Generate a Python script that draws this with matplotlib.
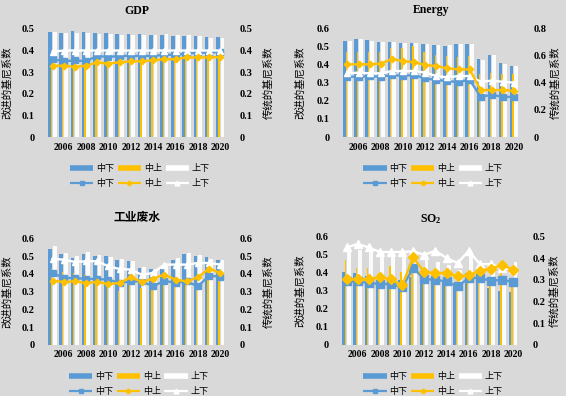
import matplotlib
matplotlib.use("Agg")
import matplotlib.pyplot as plt
from matplotlib.lines import Line2D
import numpy as np

plt.rcParams['font.family'] = ['Liberation Serif', 'Noto Sans CJK SC']
plt.rcParams['mathtext.default'] = 'regular'

years = np.arange(2005, 2021)
xtick_years = np.arange(2006, 2021, 2)
series_names = ['中下', '中上', '上下']

# GDP
gdp_bar_zx = [0.485, 0.48, 0.49, 0.485, 0.48, 0.48, 0.475, 0.475, 0.475, 0.47, 0.47, 0.468, 0.465, 0.465, 0.463, 0.462]
gdp_bar_zs = [0.34, 0.34, 0.335, 0.34, 0.35, 0.35, 0.355, 0.36, 0.36, 0.365, 0.37, 0.37, 0.375, 0.375, 0.375, 0.378]
gdp_bar_sx = [0.485, 0.48, 0.48, 0.48, 0.478, 0.475, 0.472, 0.47, 0.47, 0.47, 0.475, 0.47, 0.47, 0.468, 0.46, 0.46]
gdp_line_zx = [0.36, 0.35, 0.355, 0.35, 0.375, 0.37, 0.375, 0.375, 0.375, 0.375, 0.38, 0.38, 0.385, 0.39, 0.39, 0.395]
gdp_line_zs = [0.33, 0.33, 0.325, 0.33, 0.345, 0.34, 0.345, 0.35, 0.35, 0.355, 0.36, 0.36, 0.368, 0.368, 0.368, 0.37]
gdp_line_sx = [0.395, 0.4, 0.4, 0.4, 0.4, 0.4, 0.4, 0.4, 0.4, 0.4, 0.4, 0.4, 0.4, 0.4, 0.4, 0.4]

# Energy
en_bar_zx = [0.53, 0.541, 0.532, 0.522, 0.522, 0.519, 0.519, 0.51, 0.506, 0.502, 0.515, 0.515, 0.428, 0.452, 0.408, 0.391]
en_bar_zs = [0.47, 0.47, 0.47, 0.47, 0.49, 0.49, 0.5, 0.47, 0.45, 0.447, 0.44, 0.447, 0.347, 0.354, 0.347, 0.347]
en_bar_sx = [0.53, 0.54, 0.53, 0.525, 0.525, 0.52, 0.52, 0.51, 0.505, 0.505, 0.515, 0.515, 0.425, 0.45, 0.405, 0.39]
en_line_zx = [0.443, 0.443, 0.446, 0.443, 0.455, 0.45, 0.455, 0.43, 0.42, 0.41, 0.405, 0.42, 0.295, 0.31, 0.295, 0.295]
en_line_zs = [0.534, 0.534, 0.534, 0.54, 0.571, 0.559, 0.549, 0.529, 0.522, 0.505, 0.497, 0.497, 0.345, 0.345, 0.345, 0.34]
en_line_sx = [0.468, 0.473, 0.468, 0.468, 0.485, 0.485, 0.485, 0.473, 0.448, 0.438, 0.448, 0.448, 0.406, 0.414, 0.406, 0.399]

# 工业废水
ws_bar_zx = [0.543, 0.513, 0.49, 0.513, 0.5, 0.5, 0.481, 0.472, 0.434, 0.428, 0.434, 0.481, 0.513, 0.5, 0.494, 0.481]
ws_bar_zs = [0.428, 0.411, 0.406, 0.392, 0.358, 0.349, 0.302, 0.377, 0.32, 0.336, 0.358, 0.336, 0.336, 0.345, 0.424, 0.358]
ws_bar_sx = [0.557, 0.519, 0.5, 0.524, 0.506, 0.494, 0.485, 0.475, 0.438, 0.428, 0.443, 0.49, 0.519, 0.506, 0.485, 0.481]
ws_line_zx = [0.406, 0.377, 0.377, 0.372, 0.372, 0.368, 0.349, 0.358, 0.358, 0.33, 0.362, 0.349, 0.358, 0.33, 0.39, 0.385]
ws_line_zs = [0.362, 0.355, 0.358, 0.349, 0.355, 0.343, 0.349, 0.381, 0.355, 0.374, 0.396, 0.368, 0.358, 0.381, 0.43, 0.406]
ws_line_sx = [0.485, 0.481, 0.468, 0.472, 0.472, 0.443, 0.428, 0.425, 0.395, 0.406, 0.453, 0.453, 0.453, 0.462, 0.462, 0.453]

# SO2
so_bar_zx = [0.402, 0.395, 0.38, 0.355, 0.345, 0.356, 0.377, 0.358, 0.355, 0.36, 0.33, 0.395, 0.349, 0.313, 0.299, 0.291]
so_bar_zs = [0.471, 0.425, 0.425, 0.397, 0.434, 0.402, 0.484, 0.378, 0.36, 0.36, 0.332, 0.369, 0.378, 0.369, 0.397, 0.351]
so_bar_sx = [0.515, 0.526, 0.515, 0.498, 0.498, 0.489, 0.489, 0.489, 0.46, 0.443, 0.415, 0.5, 0.397, 0.405, 0.378, 0.46]
so_line_zx = [0.292, 0.292, 0.285, 0.28, 0.28, 0.265, 0.354, 0.303, 0.3, 0.292, 0.269, 0.308, 0.308, 0.295, 0.3, 0.289]
so_line_zs = [0.303, 0.303, 0.303, 0.311, 0.303, 0.274, 0.403, 0.335, 0.331, 0.331, 0.315, 0.32, 0.342, 0.351, 0.369, 0.346]
so_line_sx = [0.449, 0.465, 0.449, 0.428, 0.428, 0.428, 0.431, 0.415, 0.434, 0.4, 0.377, 0.434, 0.372, 0.372, 0.354, 0.349]

bg = '#d9d9d9'
blue = '#5b9bd5'
gold = '#ffc000'
white = '#ffffff'

fig = plt.figure(figsize=(5.66, 3.96), dpi=100, facecolor=bg)

panels = [
    # title, rect, left max, right max, bars, lines, ylabel x, y2label x, title pad, legend center
    ('GDP', [0.083, 0.654, 0.318, 0.273], 0.5, 0.5,
     (gdp_bar_zx, gdp_bar_zs, gdp_bar_sx), (gdp_line_zx, gdp_line_zs, gdp_line_sx),
     -0.194, 1.2, 11, (0.247, 0.555)),
    ('Energy', [0.604, 0.654, 0.316, 0.275], 0.6, 0.8,
     (en_bar_zx, en_bar_zs, en_bar_sx), (en_line_zx, en_line_zs, en_line_sx),
     -0.208, 1.168, 11, (0.765, 0.555)),
    ('工业废水', [0.083, 0.1295, 0.318, 0.268], 0.6, 0.6,
     (ws_bar_zx, ws_bar_zs, ws_bar_sx), (ws_line_zx, ws_line_zs, ws_line_sx),
     -0.194, 1.2, 13, (0.245, 0.03)),
    ('SO$_2$', [0.6025, 0.1295, 0.316, 0.2735], 0.6, 0.5,
     (so_bar_zx, so_bar_zs, so_bar_sx), (so_line_zx, so_line_zs, so_line_sx),
     -0.203, 1.166, 10, (0.765, 0.03)),
]

for title, rect, lmax, rmax, bars, lines, ylx, y2lx, tpad, lc in panels:
    ax = fig.add_axes(rect)
    ax.set_facecolor('none')
    ax.bar(years - 0.22, bars[0], 0.32, color=blue, zorder=2)
    ax.bar(years - 0.10, bars[1], 0.12, color=gold, zorder=3)
    ax.bar(years + 0.20, bars[2], 0.34, color=white, alpha=0.9, zorder=2)
    ax.set_xlim(2004.5, 2020.6)
    ax.set_ylim(0, lmax)
    ax.set_yticks(np.round(np.arange(0, lmax + 0.001, 0.1), 1))
    ax.set_yticklabels(['0'] + ['%.1f' % v for v in np.arange(0.1, lmax + 0.001, 0.1)])
    ax.set_xticks(xtick_years)
    ax.set_xticklabels([str(y) for y in xtick_years])
    ax.tick_params(axis='y', length=0, pad=9, labelsize=7.5)
    ax.tick_params(axis='x', length=0, pad=4, labelsize=7)
    for lab in ax.get_xticklabels() + ax.get_yticklabels():
        lab.set_fontweight('bold')
    for s in ax.spines.values():
        s.set_visible(False)
    ax.set_ylabel('改进的基尼系数', fontsize=7.5)
    ax.yaxis.set_label_coords(ylx, 0.5)
    ax.set_title(title, fontsize=8.5, fontweight='bold', pad=tpad)

    ax2 = ax.twinx()
    ax2.set_facecolor('none')
    ms = 4.5 if title != 'SO$_2$' else 6
    ax2.plot(years, lines[0], color=blue, lw=1.7, marker='s', ms=ms, zorder=4)
    ax2.plot(years, lines[1], color=gold, lw=1.7, marker='D', ms=ms - 1.2, zorder=5)
    ax2.plot(years, lines[2], color=white, lw=1.7, marker='^', ms=ms, zorder=4)
    ax2.set_ylim(0, rmax)
    rstep = 0.2 if rmax == 0.8 else 0.1
    rt = np.round(np.arange(0, rmax + 0.001, rstep), 1)
    ax2.set_yticks(rt)
    ax2.set_yticklabels(['0'] + ['%.1f' % v for v in rt[1:]])
    ax2.tick_params(axis='y', length=0, pad=9, labelsize=7.5)
    for lab in ax2.get_yticklabels():
        lab.set_fontweight('bold')
    for s in ax2.spines.values():
        s.set_visible(False)
    ax2.set_ylabel('传统的基尼系数', fontsize=7.5, rotation=90)
    ax2.yaxis.set_label_coords(y2lx, 0.5)

    handles = [
        Line2D([], [], color=blue, lw=4, solid_capstyle='butt'),
        Line2D([], [], color=blue, lw=1.6, marker='s', ms=3.5, solid_capstyle='butt'),
        Line2D([], [], color=gold, lw=4, solid_capstyle='butt'),
        Line2D([], [], color=gold, lw=1.6, marker='D', ms=2.5, solid_capstyle='butt'),
        Line2D([], [], color=white, lw=4, solid_capstyle='butt'),
        Line2D([], [], color=white, lw=1.6, marker='^', ms=3.5, solid_capstyle='butt'),
    ]
    labels = [series_names[0], series_names[0], series_names[1],
              series_names[1], series_names[2], series_names[2]]
    fig.legend(handles, labels, loc='center', bbox_to_anchor=lc, ncol=3,
               frameon=False, fontsize=6.5, handlelength=2.6, handletextpad=0.3,
               columnspacing=0.4, labelspacing=0.7)

fig.savefig('out.png', dpi=100, facecolor=bg)
